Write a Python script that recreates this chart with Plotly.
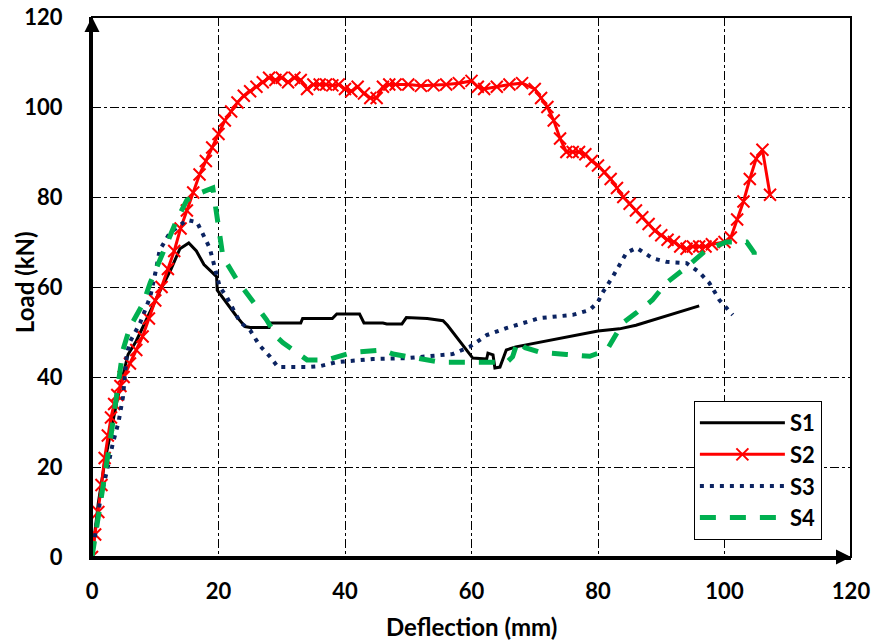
import plotly.graph_objects as go

# ---- data ----
s1_x = [0, 1, 2, 3, 4, 5, 5.7, 7, 9, 10.7, 12.5, 13.9, 15.3, 16.5, 17.7, 19.7, 19.8, 21, 22.9, 24.2, 25, 28,
        28.2, 33, 33.3, 38, 38.7, 42.3, 43, 46, 46.6, 49, 49.7, 53, 55.5, 56.2, 60.2, 62.4, 62.6, 63.4, 63.7,
        64.5, 64.9, 65.5, 67, 80, 83.4, 86, 96]
s1_y = [0, 12, 21, 28, 35, 41, 45, 48, 54, 59, 64, 68.5, 69.8, 68, 65, 62.3, 59.3, 57, 53.4, 51.2, 51, 51,
        52, 52, 53, 53, 54, 54, 52, 52, 51.8, 51.8, 53.2, 53, 52.5, 51.5, 44.2, 44, 45.3, 44.9, 42,
        42.2, 43.8, 46, 46.7, 50.2, 50.7, 51.5, 55.8]

s2_x = [0, 0.5, 1, 1.5, 2, 2.5, 3, 3.5, 4, 4.5, 5, 6, 7, 8, 9, 10, 11, 12, 13, 14, 15, 16, 17, 18, 19, 20,
        21, 22, 23, 24, 25, 26, 27, 28, 29, 30, 31, 32, 33, 34, 35, 36, 37, 38, 39, 40, 41, 42, 43, 44, 45,
        46, 47, 48, 50, 52, 54, 56, 58, 60, 61, 62, 64, 66, 68, 70, 71, 72, 73, 74, 75, 76, 77, 78, 79, 80,
        81, 82, 83, 84, 85, 86, 87, 88, 89, 90, 91, 92, 93, 94, 95, 96, 97, 98, 100, 101, 102, 103, 104,
        105, 106, 107.2]
s2_y = [0, 5, 10, 16, 22, 27, 31, 34, 36, 38, 40, 43, 46, 49, 53, 57, 60, 64, 68, 73, 77, 81, 85, 88, 91, 94,
        97, 99, 101, 102.5, 103.5, 104.5, 105.5, 106.5, 106, 106.5, 105.5, 106.5, 106, 104, 105, 105, 105,
        104.8, 105, 104, 103.5, 104.5, 103, 102, 102, 104.5, 105, 105, 105, 104.7, 104.8, 105, 105.3,
        105.8, 104.5, 104, 104.5, 105, 105.3, 104, 102, 100, 97, 93, 90, 90, 90, 89.5, 88, 87, 85.5, 84,
        82, 80, 78.5, 77, 75.5, 74, 72.5, 71.5, 70.5, 70, 69, 68.5, 69, 69, 69, 69.5, 70, 71, 75, 79, 84,
        88.5, 90.5, 80.5]

s3_x = [0, 1.3, 2.5, 3.3, 4.2, 4.9, 5.5, 6, 7.6, 9.2, 10, 10.7, 12.3, 15, 16.6, 17.4, 18.6, 19.4, 20.2, 21.3,
        22.3, 23.4, 25, 26.5, 28.1, 29.4, 34, 36, 38.7, 44.4, 49.8, 57, 59.7, 62.4, 65.6, 68.7, 70.8, 76,
        78.7, 80, 80.7, 82.3, 84.5, 86.1, 88.6, 90.8, 94, 96, 97.6, 99.2, 101.3]
s3_y = [0, 12.7, 20, 25.3, 30, 35.6, 45, 47.8, 52, 57.8, 63, 68.2, 72, 74.9, 74.4, 72.2, 68.7, 64.4, 60, 57.8,
        54.9, 52.2, 50.4, 47, 44.6, 42.2, 42.2, 42.4, 43.3, 44, 44.2, 45.1, 46.7, 49.3, 50.9, 52.2, 53.1, 53.8,
        54.9, 56.7, 58.7, 62.2, 67.6, 68.7, 66.4, 65.6, 65.3, 63.3, 60.9, 57.1, 53.8]

s4_x = [0, 1, 2, 3, 4, 4.9, 6, 8.1, 9.2, 10.3, 11.8, 13.4, 15, 17.1, 19.1, 19.7, 20.7, 22.9, 25.4, 27.6, 29.2,
        30.2, 32.9, 34, 37.1, 40.8, 42.3, 46, 47.6, 51.8, 55, 60.2, 65.6, 66.5, 67.3, 68.5, 70.8, 75, 78.7,
        81.4, 82.3, 83.9, 86, 88.6, 90.8, 94, 97.1, 100.3, 103.5, 104.7, 104.7]
s4_y = [0, 9, 17, 27, 37, 46, 51.1, 56.4, 60.9, 64.4, 69.8, 74.9, 79.3, 80.9, 82, 75.6, 66.7, 61.6, 57.1, 52.7,
        48.9, 47.6, 44.9, 43.8, 43.8, 45.3, 45.6, 46, 45.1, 44.2, 43.3, 43.3, 43.3, 44.5, 48, 46.5, 45.5, 45,
        44.6, 46, 48, 52, 54.2, 57.1, 60.9, 64.4, 68.2, 70, 70, 67.6, 65]

x_ticks = [0, 20, 40, 60, 80, 100, 120]
y_ticks = [0, 20, 40, 60, 80, 100, 120]
x_title = "Deflection (mm)"
y_title = "Load (kN)"

FONT = "Lato"
FS = 22
TFS = 24

fig = go.Figure()
fig.add_trace(go.Scatter(x=s1_x, y=s1_y, name="S1", mode="lines",
                         line=dict(color="black", width=3)))
fig.add_trace(go.Scatter(x=s2_x, y=s2_y, name="S2", mode="lines+markers",
                         line=dict(color="#FF0000", width=3),
                         marker=dict(symbol="x-thin", size=12, color="#FF0000",
                                     line=dict(color="#FF0000", width=2))))
fig.add_trace(go.Scatter(x=s3_x, y=s3_y, name="S3", mode="lines",
                         line=dict(color="#0B2361", width=4, dash="4px,6px")))
fig.add_trace(go.Scatter(x=s4_x, y=s4_y, name="S4", mode="lines",
                         line=dict(color="#00B050", width=5, dash="16px,14px")))

axis_common = dict(
    range=[0, 120], showgrid=True, gridcolor="black", gridwidth=1, griddash="dashdot",
    zeroline=False, showline=True, linecolor="black", linewidth=3, ticks="",
    automargin=False,
    tickfont=dict(family=FONT, size=FS, color="black", weight="bold"),
)

fig.update_xaxes(**axis_common, tickvals=x_ticks, ticktext=[str(v) for v in x_ticks],
                 ticklabelstandoff=13)
fig.update_yaxes(**axis_common, tickvals=y_ticks, ticktext=[str(v) for v in y_ticks],
                 ticklabelstandoff=22)

# axis titles
fig.add_annotation(text=x_title, xref="paper", yref="paper", x=0.5, y=-0.129,
                   xanchor="center", yanchor="middle", showarrow=False,
                   font=dict(family=FONT, size=TFS, color="black", weight="bold"))
fig.add_annotation(text=y_title, xref="paper", yref="paper", x=-0.0896, y=0.509,
                   xanchor="center", yanchor="middle", showarrow=False, textangle=-90,
                   font=dict(family=FONT, size=TFS, color="black", weight="bold"))

# box border (top & right)
fig.add_shape(type="rect", xref="paper", yref="paper", x0=0, y0=0, x1=1, y1=1,
              line=dict(color="black", width=2), layer="above")

# axis arrows
fig.add_annotation(x=0, y=120, xref="x", yref="y", ax=0, ay=16, axref="pixel", ayref="pixel",
                   showarrow=True, arrowhead=2, arrowsize=1, arrowwidth=3, arrowcolor="black",
                   text="", standoff=0)
fig.add_annotation(x=120, y=0, xref="x", yref="y", ax=-16, ay=0, axref="pixel", ayref="pixel",
                   showarrow=True, arrowhead=2, arrowsize=1, arrowwidth=3, arrowcolor="black",
                   text="", standoff=0)

fig.update_layout(
    width=873, height=643,
    margin=dict(l=92, r=22, t=17, b=86),
    plot_bgcolor="white", paper_bgcolor="white",
    showlegend=True,
    legend=dict(x=0.793, y=0.289, xanchor="left", yanchor="top",
                bgcolor="white", bordercolor="black", borderwidth=1,
                font=dict(family=FONT, size=FS, color="black", weight="bold"),
                itemwidth=85, tracegroupgap=0),
)

fig.write_html("out.html", config={"displayModeBar": False},
               post_script="document.body.style.margin='0';document.body.style.overflow='hidden';")
